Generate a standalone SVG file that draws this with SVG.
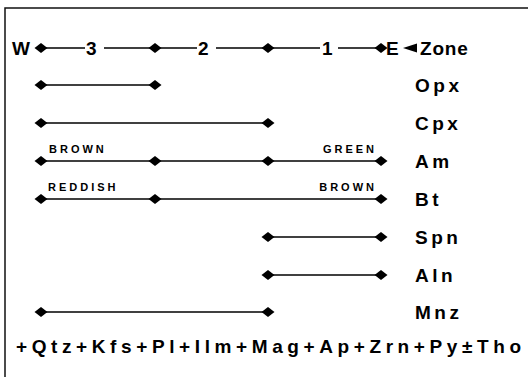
<svg xmlns="http://www.w3.org/2000/svg" width="528" height="377" viewBox="0 0 528 377">
  <style>
    .bg { fill: #ffffff; }
    .frame { fill: none; stroke: #111; stroke-width: 1.5; }
    .bar { stroke: #000; stroke-width: 1.7; fill: none; }
    .lbl { font-family: "Liberation Sans", Arial, sans-serif; font-weight: bold; font-size: 19px; letter-spacing: 3.5px; fill: #000; }
    .zone { font-family: "Liberation Sans", Arial, sans-serif; font-weight: bold; font-size: 19px; fill: #000; }
    .zl { font-family: "Liberation Sans", Arial, sans-serif; font-weight: bold; font-size: 19px; letter-spacing: 0.8px; fill: #000; }
    .tag { font-family: "Liberation Sans", Arial, sans-serif; font-weight: bold; font-size: 11px; letter-spacing: 3px; fill: #000; }
    .foot { font-family: "Liberation Sans", Arial, sans-serif; font-weight: bold; font-size: 19px; letter-spacing: 4.6px; fill: #000; }
  </style>
  <defs>
    <path id="dm" d="M-6.5,0 L0,-5 L6.5,0 L0,5 Z" fill="#000"/>
  </defs>
  <rect class="bg" x="0" y="0" width="528" height="377"/>
  <path class="frame" d="M5,377 L5,8 L528,8"/>

  <!-- zone scale, W to E -->
  <g id="zone-scale">
    <text class="zone" x="12" y="55">W</text>
    <path class="bar" d="M41,48 H85 M104,48 H197 M216,48 H320 M338,48 H381"/>
    <text class="zone" x="86" y="55">3</text>
    <text class="zone" x="198" y="55">2</text>
    <text class="zone" x="322" y="55">1</text>
    <use href="#dm" x="41" y="48"/>
    <use href="#dm" x="155" y="48"/>
    <use href="#dm" x="268" y="48"/>
    <use href="#dm" x="381" y="48"/>
    <text class="zone" x="386" y="55">E</text>
    <path d="M403,48 L417,43.5 L417,52.5 Z" fill="#000"/>
    <text class="zl" x="420" y="55">Zone</text>
  </g>

  <!-- mineral ranges -->
  <g id="connectors">
    <path class="bar" d="M41,85 H155"/>
    <path class="bar" d="M41,123 H268"/>
    <path class="bar" d="M41,161 H381"/>
    <path class="bar" d="M41,199 H381"/>
    <path class="bar" d="M268,237 H381"/>
    <path class="bar" d="M268,275 H381"/>
    <path class="bar" d="M41,312 H268"/>
  </g>

  <g id="opx">
    <use href="#dm" x="41" y="85"/>
    <use href="#dm" x="155" y="85"/>
    <text class="lbl" x="415" y="92">Opx</text>
  </g>
  <g id="cpx">
    <use href="#dm" x="41" y="123"/>
    <use href="#dm" x="268" y="123"/>
    <text class="lbl" x="415" y="130">Cpx</text>
  </g>
  <g id="am">
    <use href="#dm" x="41" y="161"/>
    <use href="#dm" x="155" y="161"/>
    <use href="#dm" x="268" y="161"/>
    <use href="#dm" x="381" y="161"/>
    <text class="tag" x="49" y="153">BROWN</text>
    <text class="tag" x="377" y="153" text-anchor="end">GREEN</text>
    <text class="lbl" x="415" y="168">Am</text>
  </g>
  <g id="bt">
    <use href="#dm" x="41" y="199"/>
    <use href="#dm" x="155" y="199"/>
    <use href="#dm" x="381" y="199"/>
    <text class="tag" x="48" y="191">REDDISH</text>
    <text class="tag" x="377" y="191" text-anchor="end">BROWN</text>
    <text class="lbl" x="415" y="206">Bt</text>
  </g>
  <g id="spn">
    <use href="#dm" x="268" y="237"/>
    <use href="#dm" x="381" y="237"/>
    <text class="lbl" x="415" y="244">Spn</text>
  </g>
  <g id="aln">
    <use href="#dm" x="268" y="275"/>
    <use href="#dm" x="381" y="275"/>
    <text class="lbl" x="415" y="282">Aln</text>
  </g>
  <g id="mnz">
    <use href="#dm" x="41" y="312"/>
    <use href="#dm" x="268" y="312"/>
    <text class="lbl" x="415" y="319">Mnz</text>
  </g>

  <g id="assemblage">
    <text class="foot" x="16" y="353">+Qtz+Kfs+Pl+Ilm+Mag+Ap+Zrn+Py±Tho</text>
  </g>
</svg>
